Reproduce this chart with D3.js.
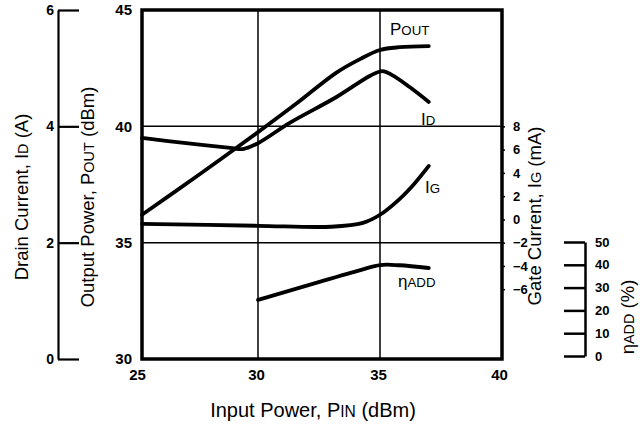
<!DOCTYPE html>
<html><head><meta charset="utf-8">
<script src="https://cdn.jsdelivr.net/npm/d3@7"></script>
<style>
html,body{margin:0;padding:0;background:#fff;}
svg{display:block;font-family:"Liberation Sans",Arial,Helvetica,sans-serif;}
.tick text{font-weight:bold;fill:#000;}
</style></head>
<body>
<svg id="c" width="643" height="426"></svg>
<script>
// ---- data ----
const xTicks = [25, 30, 35, 40];
const poutTicks = [30, 35, 40, 45];
const idTicks = [0, 2, 4, 6];
const igTicks = [-6, -4, -2, 0, 2, 4, 6, 8];
const etaTicks = [0, 10, 20, 30, 40, 50];

const poutPin = [25, 27.5, 30, 31.6, 33.2, 34.2, 35, 35.8, 37];
const poutVal = [36.2, 37.95, 39.75, 41.0, 42.3, 42.9, 43.28, 43.4, 43.45];

const idPin = [25, 26.9, 28.8, 29.35, 30, 31.3, 33.2, 34.6, 35.1, 35.5, 36.2, 37];
const idVal = [3.80, 3.71, 3.63, 3.61, 3.71, 4.06, 4.50, 4.87, 4.95, 4.88, 4.68, 4.42];

const igPin = [25, 30, 33, 34.3, 35, 35.8, 36.4, 37];
const igVal = [-0.38, -0.55, -0.63, -0.3, 0.4, 1.75, 3.05, 4.6];

const etaPin = [30, 34.2, 35, 35.8, 37];
const etaVal = [24.6, 37.7, 39.9, 39.8, 38.6];

// ---- layout ----
const svg = d3.select("#c");
const L = 142, R = 502, T = 10, B = 359;

const x = d3.scaleLinear().domain([25, 30, 35, 40]).range([142, 258, 380, 502]);
const yP = d3.scaleLinear().domain([30, 45]).range([B, T]);
const yI = d3.scaleLinear().domain([0, 6]).range([B, T]);
const yG = d3.scaleLinear().domain([-2, 8]).range([yP(35), yP(40)]);
const yE = d3.scaleLinear().domain([0, 50]).range([356, 242]);

// gridlines
const g = svg.append("g");
[30, 35].forEach(v => g.append("line").attr("x1", x(v)).attr("x2", x(v)).attr("y1", T).attr("y2", B)
  .attr("stroke", "#000").attr("stroke-width", 1.5));
[35, 40].forEach(v => g.append("line").attr("x1", L).attr("x2", R).attr("y1", yP(v)).attr("y2", yP(v))
  .attr("stroke", "#000").attr("stroke-width", 1.5));

// frame
svg.append("rect").attr("x", L).attr("y", T).attr("width", R - L).attr("height", B - T)
  .attr("fill", "none").attr("stroke", "#000").attr("stroke-width", 3.5);

function styleAxis(sel, fs, sw) {
  sel.selectAll("text").attr("font-size", fs).attr("fill", "#000");
  sel.selectAll("line").attr("stroke", "#000").attr("stroke-width", sw);
  sel.selectAll("path.domain").attr("stroke", "#000").attr("stroke-width", sw);
}

// x axis
const ax = svg.append("g").attr("transform", `translate(0,${B})`)
  .call(d3.axisBottom(x).tickValues(xTicks).tickSize(0).tickPadding(10));
ax.select(".domain").remove();
styleAxis(ax, 15, 1);
ax.selectAll(".tick text").attr("dx", d => d === 25 ? -5 : (d === 40 ? -3 : -2));

// Pout axis
const ap = svg.append("g").attr("transform", `translate(${L},0)`)
  .call(d3.axisLeft(yP).tickValues(poutTicks).tickSize(0).tickPadding(10));
ap.select(".domain").remove();
styleAxis(ap, 15, 1);

// Drain current axis
const ai = svg.append("g").attr("transform", `translate(58,0)`)
  .call(d3.axisLeft(yI).tickValues(idTicks).tickFormat(d3.format("d")).tickSize(-21).tickSizeOuter(0).tickPadding(4));
styleAxis(ai, 14, 2.2);

// Gate current axis
const ag = svg.append("g").attr("transform", `translate(${R},0)`)
  .call(d3.axisRight(yG).tickValues(igTicks).tickFormat(d3.format("d")).tickSize(3).tickPadding(8));
ag.select(".domain").remove();
styleAxis(ag, 13, 1.5);

// eta axis
const ae = svg.append("g").attr("transform", `translate(585,0)`)
  .call(d3.axisRight(yE).tickValues(etaTicks).tickFormat(d3.format("d")).tickSize(-21).tickSizeOuter(0).tickPadding(10));
styleAxis(ae, 13, 2.5);

// curves
const curve = d3.curveCatmullRom.alpha(0.5);
function drawCurve(px, py, ys) {
  const pts = px.map((v, i) => [x(v), ys(py[i])]);
  svg.append("path").attr("d", d3.line().curve(curve)(pts))
    .attr("fill", "none").attr("stroke", "#000").attr("stroke-width", 3.8)
    .attr("stroke-linecap", "round").attr("stroke-linejoin", "round");
}
drawCurve(poutPin, poutVal, yP);
drawCurve(idPin, idVal, yI);
drawCurve(igPin, igVal, yG);
drawCurve(etaPin, etaVal, yE);

// text helper: main + small-caps subscript
function label(parent, x0, y0, parts, fs, rot) {
  const t = parent.append("text").attr("font-size", fs).attr("fill", "#000");
  if (rot) t.attr("transform", `translate(${x0},${y0}) rotate(-90)`).attr("text-anchor", "middle");
  else t.attr("x", x0).attr("y", y0);
  parts.forEach(p => {
    const s = t.append("tspan").text(p[0]);
    if (p[1]) s.attr("font-size", fs * 0.78);
  });
  return t;
}

// curve labels
label(svg, 390, 35, [["P"], ["OUT", 1]], 17);
label(svg, 421, 125, [["I"], ["D", 1]], 17);
label(svg, 425, 193, [["I"], ["G", 1]], 17);
label(svg, 398, 287, [["η"], ["ADD", 1]], 17);

// axis titles
label(svg, 28, 197, [["Drain Current, I"], ["D", 1], [" (A)"]], 18.5, true);
label(svg, 94, 197, [["Output Power, P"], ["OUT", 1], [" (dBm)"]], 18.5, true);
label(svg, 541, 216, [["Gate Current, I"], ["G", 1], [" (mA)"]], 18.5, true);
label(svg, 634, 317, [["η"], ["ADD", 1], [" (%)"]], 18.5, true);
label(svg, 313, 417, [["Input Power, P"], ["IN", 1], [" (dBm)"]], 20).attr("text-anchor", "middle");
</script>
</body></html>
